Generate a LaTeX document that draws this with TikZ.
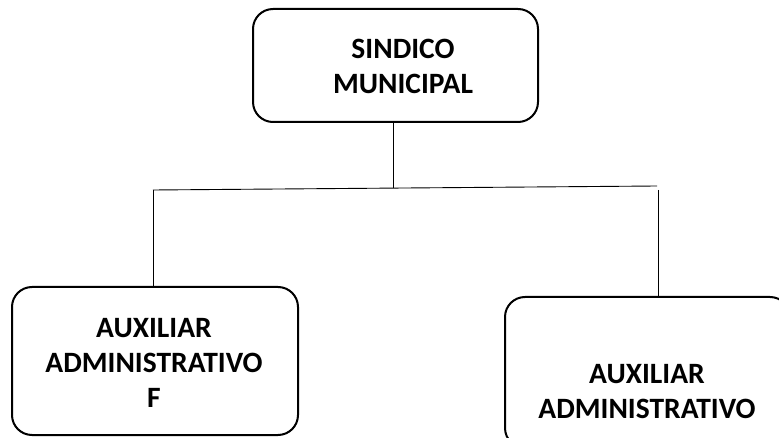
\documentclass[tikz,border=0pt]{standalone}
\usepackage{fontspec}
\setmainfont{Carlito}
\begin{document}
\begin{tikzpicture}[x=1pt,y=-1pt,
  box/.style={draw=black, line width=2pt, rounded corners=20pt, fill=white, inner sep=0pt},
  lbl/.style={font=\bfseries\fontsize{29.5}{35}\selectfont, align=center, inner sep=0pt},
  conn/.style={draw=black, line width=0.9pt}]
\useasboundingbox (0,0) rectangle (779,438);
\clip (0,0) rectangle (779,438);
\node[box, minimum width=285pt, minimum height=113pt] (top) at (395.5,65.5) {};
\node[box, minimum width=286pt, minimum height=148pt] (left) at (155,361) {};
\node[box, minimum width=285pt, minimum height=151pt] (right) at (647.5,372.5) {};
\node[lbl] (ttop) at (403,66) {SINDICO\\MUNICIPAL};
\node[lbl] (tleft) at (154,362.5) {AUXILIAR\\ADMINISTRATIVO\\F};
\node[lbl] (tright) at (647,391.5) {AUXILIAR\\ADMINISTRATIVO};
\coordinate (jt) at (393,188);
\coordinate (hl) at (153,190);
\coordinate (hr) at (657,186);
\coordinate (vr) at (658,190);
\draw[conn] (top.south -| jt) -- (jt);
\draw[conn] (hl) -- (hr);
\draw[conn] (hl) -- (hl |- left.north);
\draw[conn] (vr) -- (vr |- right.north);
\end{tikzpicture}
\end{document}
